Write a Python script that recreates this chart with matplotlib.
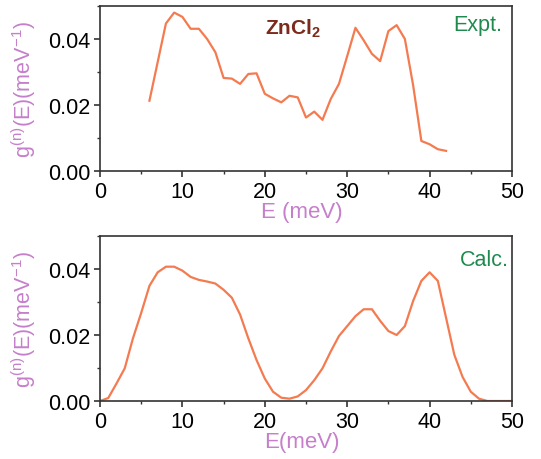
import matplotlib
matplotlib.use("Agg")
import matplotlib.pyplot as plt
from matplotlib.ticker import MultipleLocator

plt.rcParams.update({
    "font.family": ["Liberation Sans", "DejaVu Sans"],
    "mathtext.fontset": "custom",
    "mathtext.rm": "Liberation Sans",
    "mathtext.it": "Liberation Sans",
    "font.size": 15,
})

# ── Experimental g(n)(E) ──────────────────────────────────
expt_E = [6, 8, 9, 10, 11, 12, 13, 14, 15, 16, 17, 18, 19, 20, 21, 22, 23, 24,
          25, 26, 27, 28, 29, 30, 31, 32, 33, 34, 35, 36, 37, 38, 39, 40, 41, 42]
expt_g = [0.0213, 0.0447, 0.0480, 0.0467, 0.0431, 0.0431, 0.0400, 0.0360,
          0.0282, 0.0280, 0.0264, 0.0294, 0.0296, 0.0234, 0.0220, 0.0208,
          0.0228, 0.0223, 0.0162, 0.0180, 0.0155, 0.0218, 0.0264, 0.0348,
          0.0434, 0.0396, 0.0355, 0.0333, 0.0424, 0.0442, 0.0400, 0.0260,
          0.0091, 0.0081, 0.0066, 0.0061]

# ── Calculated g(n)(E) ────────────────────────────────────
calc_E = list(range(0, 51))
calc_g = [0.0000, 0.0009, 0.0053, 0.0099, 0.0190, 0.0267, 0.0349, 0.0390,
          0.0407, 0.0407, 0.0395, 0.0376, 0.0367, 0.0362, 0.0356, 0.0337,
          0.0313, 0.0262, 0.0190, 0.0124, 0.0068, 0.0028, 0.0010, 0.0007,
          0.0014, 0.0033, 0.0063, 0.0099, 0.0150, 0.0197, 0.0227, 0.0257,
          0.0278, 0.0278, 0.0243, 0.0212, 0.0200, 0.0227, 0.0303, 0.0364,
          0.0390, 0.0364, 0.0252, 0.0140, 0.0073, 0.0028, 0.0007, 0.0000,
          0.0000, 0.0000, 0.0000]

LINE = "#F47B50"
PINK = "#C67FCB"
GREEN = "#1E8A4E"
BROWN = "#7B2A1C"
SPINE = "#333333"

W, H = 541, 460
fig = plt.figure(figsize=(W / 100, H / 100), dpi=100)
ax1 = fig.add_axes([100 / W, (H - 172) / H, 412 / W, 165 / H])
ax2 = fig.add_axes([100 / W, (H - 402) / H, 412 / W, 165 / H])

ylabel = r"g$^{\mathregular{(n)}}$(E)(meV$^{\mathregular{-1}}$)"

for ax, xl in ((ax1, "E (meV)"), (ax2, "E(meV)")):
    ax.set_xlim(0, 50)
    ax.set_ylim(0, 0.05)
    ax.xaxis.set_major_locator(MultipleLocator(10))
    ax.xaxis.set_minor_locator(MultipleLocator(5))
    ax.yaxis.set_major_locator(MultipleLocator(0.02))
    ax.yaxis.set_minor_locator(MultipleLocator(0.01))
    ax.yaxis.set_major_formatter(plt.FormatStrFormatter("%.2f"))
    ax.tick_params(which="major", direction="out", length=4, width=1.2,
                   color=SPINE, labelsize=15.5, pad=3)
    ax.tick_params(which="minor", direction="out", length=2.5, width=1,
                   color=SPINE)
    for s in ax.spines.values():
        s.set_color(SPINE)
        s.set_linewidth(1.2)
    ax.set_xlabel(xl, color=PINK, fontsize=16)
    ax.set_ylabel(ylabel, color=PINK, fontsize=15.5)
    ax.xaxis.set_label_coords(0.49, -0.18)
    ax.yaxis.set_label_coords(-0.15, 0.5)

ax1.plot(expt_E, expt_g, color=LINE, lw=1.6)
ax2.plot(calc_E, calc_g, color=LINE, lw=1.6)

ax1.text(23.4, 0.0435, r"ZnCl$_{\mathregular{2}}$", color=BROWN, fontsize=15,
         fontweight="bold", ha="center", va="center")
ax1.text(45.9, 0.0443, "Expt.", color=GREEN, fontsize=15.5, ha="center", va="center")
ax2.text(46.7, 0.0428, "Calc.", color=GREEN, fontsize=15.5, ha="center", va="center")

fig.savefig("out.png", dpi=100, facecolor="white")
